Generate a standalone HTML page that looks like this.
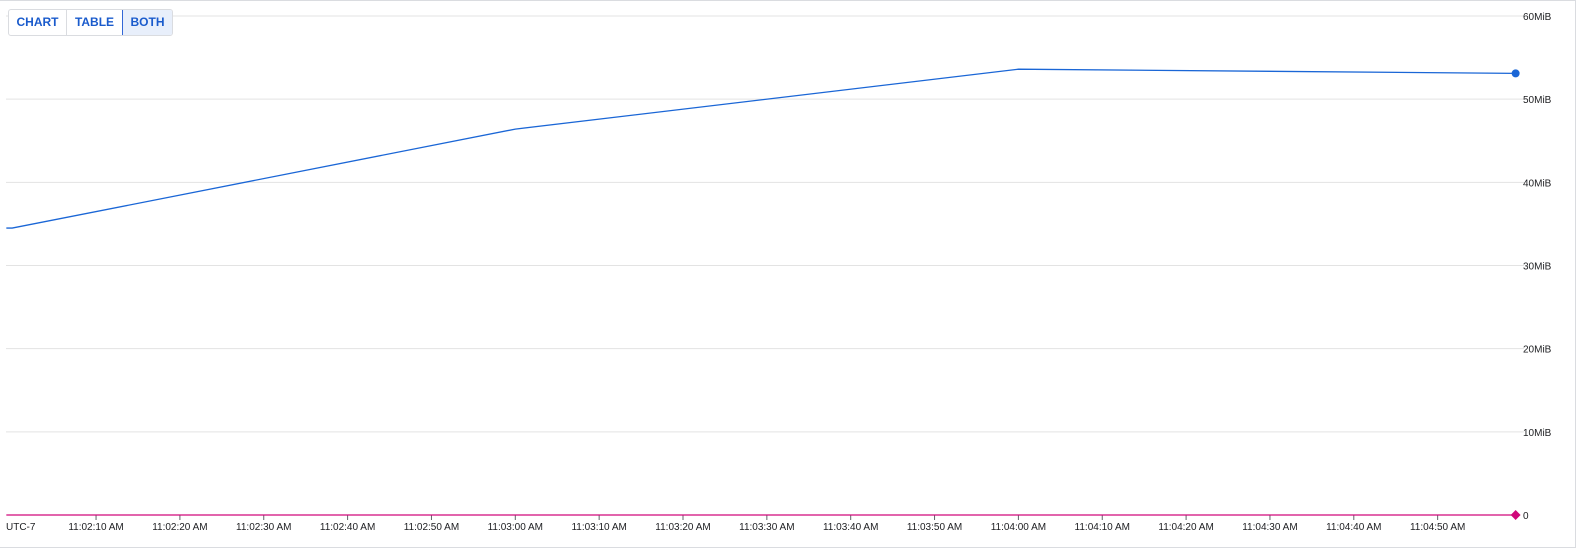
<!DOCTYPE html>
<html><head><meta charset="utf-8">
<style>
body{margin:0;width:1577px;height:552px;background:#fff;font-family:"Liberation Sans",Arial,sans-serif;overflow:hidden;position:relative}
#frame{position:absolute;left:0;top:0;width:1575px;height:546px;border-top:1px solid #dadce0;border-right:1px solid #dadce0;border-bottom:1px solid #dadce0}
#toggle{position:absolute;left:8px;top:9px;height:25px;display:flex;border:1px solid #dadce0;border-radius:3px;background:#fff;overflow:hidden}
#toggle div{font-size:12px;font-weight:bold;color:#1a5bcc;line-height:25px;border-right:1px solid #dadce0;text-align:center;box-sizing:border-box}
#toggle div:last-child{border:1px solid #3367d6;background:#e8effb;margin:-1px;line-height:25px}
svg{position:absolute;left:0;top:0}
svg text{font-family:"Liberation Sans",Arial,sans-serif;font-size:10px;fill:#202124}
</style></head><body>
<div id="frame"></div>
<svg id="chart" width="1577" height="552"></svg>
<div id="toggle">
<div style="width:58px">CHART</div>
<div style="width:56px">TABLE</div>
<div style="width:51px">BOTH</div>
</div>
<script>
const yTicks=[0,10,20,30,40,50,60];
const yTickLabels=["0","10MiB","20MiB","30MiB","40MiB","50MiB","60MiB"];
const xTicks=[10,20,30,40,50,60,70,80,90,100,110,120,130,140,150,160,170];
const xTickLabels=["11:02:10 AM","11:02:20 AM","11:02:30 AM","11:02:40 AM","11:02:50 AM","11:03:00 AM","11:03:10 AM","11:03:20 AM","11:03:30 AM","11:03:40 AM","11:03:50 AM","11:04:00 AM","11:04:10 AM","11:04:20 AM","11:04:30 AM","11:04:40 AM","11:04:50 AM"];
const memTimes=[-0.7,0,60,120,179.3];
const memValues=[34.5,34.5,46.4,53.6,53.1];
const zeroTimes=[-0.7,179.3];
const zeroValues=[0,0];
const NS='http://www.w3.org/2000/svg';
const svg=document.getElementById('chart');
const x=t=>12.2+t*8.385;
const y=v=>515-v*8.317;
function mk(tag,attrs){const e=document.createElementNS(NS,tag);for(const k in attrs)e.setAttribute(k,attrs[k]);svg.appendChild(e);return e;}
yTicks.forEach((v,i)=>{
 if(v>0){const g=mk('line',{x1:6,x2:1524,y1:y(v),y2:y(v),stroke:'#e3e3e3','stroke-width':1});
 
 }
 const t=mk('text',{x:1523,y:y(v)+4});t.textContent=yTickLabels[i];
 
 
});
const ul=mk('text',{x:6,y:530});ul.textContent='UTC-7';


xTicks.forEach((t,i)=>{
 const tk=mk('line',{x1:x(t),x2:x(t),y1:515,y2:520,stroke:'#5f6368','stroke-width':1});
 
 
 const l=mk('text',{x:x(t),y:530,'text-anchor':'middle'});l.textContent=xTickLabels[i];
 
 
});
const zp=mk('polyline',{points:zeroTimes.map((t,i)=>x(t)+','+y(zeroValues[i])).join(' '),fill:'none',stroke:'#d0077a','stroke-width':1.3});


const zl=zeroTimes.length-1;
const d=mk('rect',{x:x(zeroTimes[zl])-3.5,y:y(zeroValues[zl])-3.5,width:7,height:7,fill:'#d0077a',transform:`rotate(45 ${x(zeroTimes[zl])} ${y(zeroValues[zl])})`});


const mp=mk('polyline',{points:memTimes.map((t,i)=>x(t)+','+y(memValues[i])).join(' '),fill:'none',stroke:'#1a66d6','stroke-width':1.3});


const ml=memTimes.length-1;
const c=mk('circle',{cx:x(memTimes[ml]),cy:y(memValues[ml]),r:4,fill:'#1a66d6'});


</script>
</body></html>
